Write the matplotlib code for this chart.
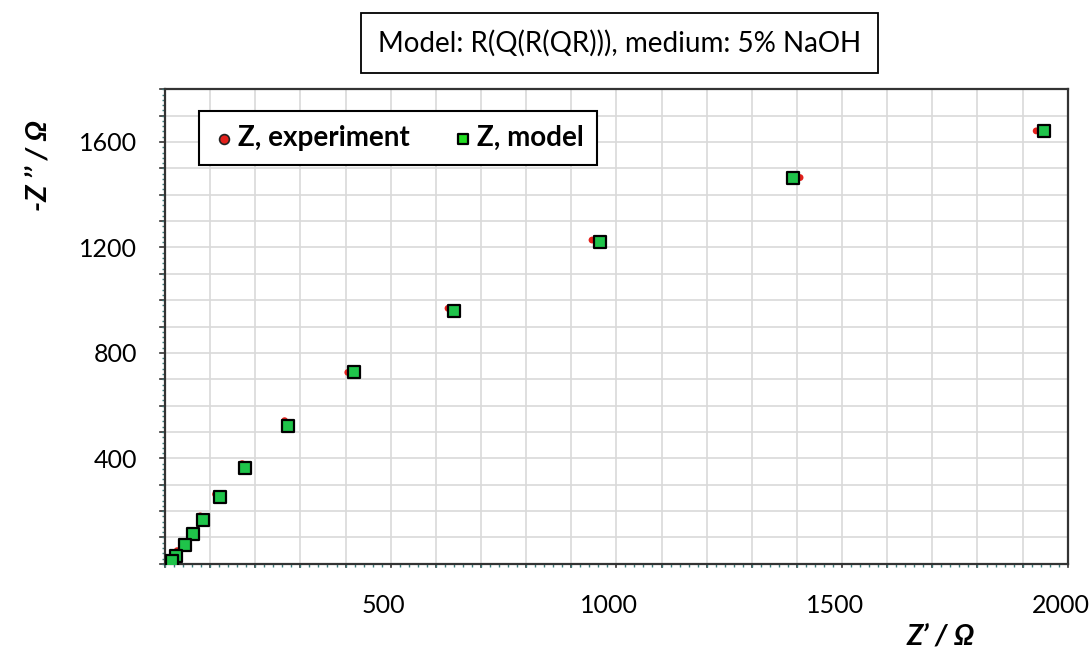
import matplotlib.pyplot as plt
import matplotlib.transforms as mtransforms
from matplotlib.ticker import MultipleLocator, FixedLocator

plt.rcParams["font.family"] = ["Lato", "DejaVu Sans"]

# Nyquist data (Z' and -Z'' in ohm)
exp_re = [1930, 1407, 946, 627, 405, 265, 171, 112, 78, 55, 39, 27, 18]
exp_im = [1642, 1465, 1228, 969, 726, 543, 380, 264, 182, 122, 81, 50, 23]
mod_re = [1948, 1391, 964, 641, 418, 272, 178, 122, 84, 61, 45, 24, 15]
mod_im = [1642, 1464, 1221, 959, 726, 523, 363, 254, 168, 114, 73, 28, 11]

x_ticks = [500, 1000, 1500, 2000]
y_ticks = [400, 800, 1200, 1600]

fig = plt.figure(figsize=(10.89, 6.61), dpi=100)
ax = fig.add_axes([0.1515, 0.147, 0.829, 0.718])

ax.scatter(exp_re, exp_im, s=24, marker="o", color="#E3201B", edgecolors="none",
           zorder=3, label="Z, experiment")
ax.scatter(mod_re, mod_im, s=75, marker="s", color="#1FC44A", edgecolors="black",
           linewidths=1.6, zorder=4, label="Z, model")

ax.set_xlim(0, 2000)
ax.set_ylim(0, 1800)

ax.xaxis.set_major_locator(FixedLocator(x_ticks))
ax.yaxis.set_major_locator(FixedLocator(y_ticks))
ax.xaxis.set_minor_locator(MultipleLocator(20))
ax.yaxis.set_minor_locator(MultipleLocator(20))

# grid every 100 on both axes
for v in range(100, 2000, 100):
    ax.axvline(v, color="#D9D9D9", lw=1.2, zorder=0)
for v in range(100, 1800, 100):
    ax.axhline(v, color="#D9D9D9", lw=1.2, zorder=0)
# major ticks every 100 (labels only every 400/500)
for v in range(0, 2001, 100):
    ax.plot([v, v], [0, -12], color="#333333", lw=1.2, clip_on=False, zorder=1)
for v in range(0, 1801, 100):
    ax.plot([0, -12], [v, v], color="#333333", lw=1.2, clip_on=False, zorder=1)

ax.tick_params(axis="both", which="major", length=0, labelsize=18, pad=22,
               colors="black")
ax.tick_params(axis="y", which="major", pad=20)
ax.tick_params(axis="both", which="minor", length=2.5, width=1, color="#3E7F7F",
               direction="out")

# nudge x tick labels a little to the left, like the original
shift = mtransforms.ScaledTranslation(-7 / 100, 0, fig.dpi_scale_trans)
for lbl in ax.get_xticklabels():
    lbl.set_transform(lbl.get_transform() + shift)

for side in ["left", "bottom", "top", "right"]:
    ax.spines[side].set_color("#333333")
    ax.spines[side].set_linewidth(1.6)

leg = ax.legend(loc="upper left", bbox_to_anchor=(0.038, 0.954), ncol=2,
                borderaxespad=0, frameon=True, fancybox=False,
                edgecolor="black", framealpha=1,
                prop={"weight": "bold", "size": 20}, handletextpad=0.1,
                columnspacing=1.5, borderpad=0.5, handlelength=0.8)
leg.get_frame().set_linewidth(1.5)
for h in leg.legend_handles:
    h.set_sizes([50])
leg.legend_handles[0].set_edgecolor("#222222")
leg.legend_handles[0].set_linewidth(1.2)
leg.legend_handles[1].set_facecolor("#22DD22")

fig.text(0.569, 0.935, "Model: R(Q(R(QR))), medium: 5% NaOH", ha="center",
         va="center", fontsize=20,
         bbox=dict(boxstyle="square,pad=0.6", facecolor="white",
                   edgecolor="black", linewidth=1.3))

fig.text(0.036, 0.75, "-Z \u2019\u2019 / \u03a9", rotation=90, ha="center",
         va="center", fontsize=21, fontweight="bold", fontstyle="italic")
fig.text(0.864, 0.036, "Z\u2019 / \u03a9", ha="center", va="center",
         fontsize=21, fontweight="bold", fontstyle="italic")

fig.savefig("out.png", dpi=100)
